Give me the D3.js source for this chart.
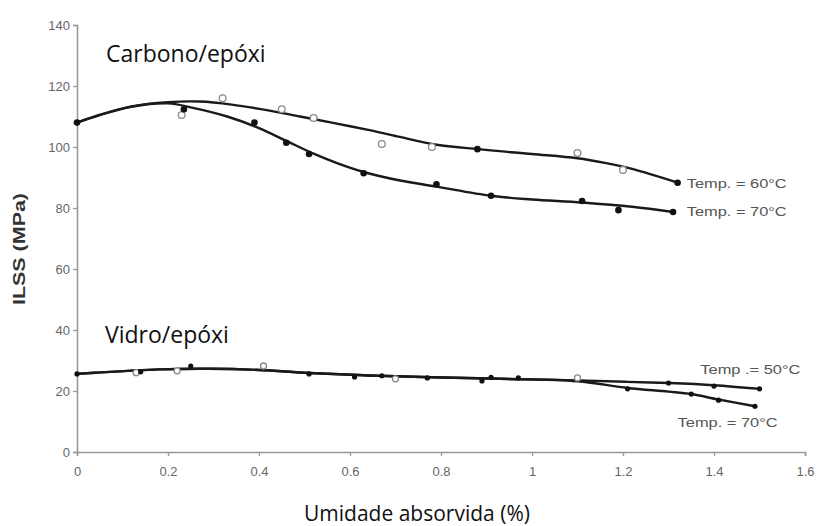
<!DOCTYPE html>
<html>
<head>
<meta charset="utf-8">
<script src="https://cdn.jsdelivr.net/npm/d3@7"></script>
<style>
  body { margin: 0; background: #fff; }
  svg { display: block; }
</style>
</head>
<body>
<div id="chart"></div>
<script>
// tick values
var xTicks = [0, 0.2, 0.4, 0.6, 0.8, 1, 1.2, 1.4, 1.6];
var yTicks = [0, 20, 40, 60, 80, 100, 120, 140];

// fitted curves
var carbon60Curve = [[0,108],[0.05,110.5],[0.12,113.3],[0.2,114.7],[0.27,114.9],[0.34,113.9],[0.42,112],[0.49,110],[0.56,108],[0.64,105.6],[0.71,103.3],[0.78,101],[0.88,99.3],[1.0,97.7],[1.1,96.3],[1.16,94.8],[1.22,92.8],[1.32,88.3]];
var carbon70Curve = [[0,108],[0.05,110.5],[0.12,113.2],[0.2,114.3],[0.25,113],[0.33,110],[0.4,106.2],[0.46,102],[0.52,97.8],[0.57,94.8],[0.63,91.8],[0.71,89],[0.79,87],[0.91,84],[1.0,82.8],[1.11,81.8],[1.22,80.4],[1.31,78.7]];
var glass50Curve = [[0,25.6],[0.04,26],[0.18,27.1],[0.29,27.3],[0.4,26.9],[0.51,25.9],[0.64,25.1],[0.78,24.5],[0.93,24],[1.1,23.5],[1.21,23],[1.3,22.6],[1.4,21.9],[1.5,20.7]];
var glass70Curve = [[0,25.6],[0.04,26],[0.18,27.1],[0.29,27.3],[0.4,26.9],[0.51,25.9],[0.64,25.1],[0.78,24.5],[0.93,24],[1.1,23.2],[1.21,21],[1.3,19.8],[1.35,19],[1.41,17.2],[1.49,15]];

// measured points
var carbonOpen = [[0.23,110.5],[0.32,116],[0.45,112.4],[0.52,109.5],[0.67,101],[0.78,100],[1.1,98],[1.2,92.5]];
var carbonFilled = [[0,108],[0.235,112.4],[0.39,108],[0.46,101.4],[0.51,97.7],[0.63,91.4],[0.79,87.8],[0.88,99.3],[0.91,84],[1.11,82.3],[1.19,79.3],[1.31,78.7],[1.32,88.3]];
var glassOpen = [[0.13,26],[0.22,26.6],[0.41,28.2],[0.7,24],[1.1,24.3]];
var glassFilled = [[0,25.6],[0.14,26.3],[0.25,28.2],[0.51,25.6],[0.61,24.6],[0.67,25],[0.77,24.3],[0.89,23.3],[0.91,24.5],[0.97,24.3],[1.21,20.7],[1.3,22.6],[1.35,19],[1.4,21.6],[1.41,17],[1.5,20.7],[1.49,15]];

// labels, anchored in data units (left edge, baseline)
var labelText = ["Temp. = 60°C", "Temp. = 70°C", "Temp .= 50°C", "Temp. = 70°C"];
var labelX = [1.34, 1.34, 1.37, 1.32];
var labelY = [86.5, 77.5, 25.5, 8.3];

var W = 817, H = 526;
var svg = d3.select("#chart").append("svg").attr("width", W).attr("height", H);

var x = d3.scaleLinear().domain([0, 1.6]).range([77, 805]);
var y = d3.scaleLinear().domain([0, 140]).range([452, 25]);

var tickFont = "'Liberation Sans', Arial, sans-serif";
var titleFont = "'Open Sans', 'Noto Sans', sans-serif";

// axes
var xAxis = svg.append("g").attr("transform", "translate(0," + y(0) + ")")
  .call(d3.axisBottom(x).tickValues(xTicks).tickSize(4).tickPadding(11)
    .tickFormat(function (d) { return d3.format("")(d); }));
var yAxis = svg.append("g").attr("transform", "translate(" + x(0) + ",0)")
  .call(d3.axisLeft(y).tickValues(yTicks).tickSize(4).tickPadding(3));

[xAxis, yAxis].forEach(function (a) {
  a.select(".domain").attr("stroke", "#999").attr("stroke-width", 1.6);
  a.selectAll(".tick line").attr("stroke", "#999").attr("stroke-width", 1.3);
  a.selectAll(".tick text").attr("fill", "#666").attr("font-size", 13)
    .attr("font-family", tickFont);
});

// curves
var line = d3.line()
  .x(function (d) { return x(d[0]); })
  .y(function (d) { return y(d[1]); })
  .curve(d3.curveCatmullRom.alpha(0.5));

[carbon60Curve, carbon70Curve, glass50Curve, glass70Curve].forEach(function (c) {
  svg.append("path").datum(c)
    .attr("d", line)
    .attr("fill", "none")
    .attr("stroke", "#1a1a1a")
    .attr("stroke-width", 2.4);
});

// markers
svg.selectAll(".co").data(carbonOpen).enter().append("circle")
  .attr("cx", function (d) { return x(d[0]); })
  .attr("cy", function (d) { return y(d[1]); })
  .attr("r", 3.4).attr("fill", "#fff").attr("stroke", "#8a8a8a").attr("stroke-width", 1.3);
svg.selectAll(".cf").data(carbonFilled).enter().append("circle")
  .attr("cx", function (d) { return x(d[0]); })
  .attr("cy", function (d) { return y(d[1]); })
  .attr("r", 3.3).attr("fill", "#111");
svg.selectAll(".go").data(glassOpen).enter().append("circle")
  .attr("cx", function (d) { return x(d[0]); })
  .attr("cy", function (d) { return y(d[1]); })
  .attr("r", 3).attr("fill", "#fff").attr("stroke", "#8a8a8a").attr("stroke-width", 1.3);
svg.selectAll(".gf").data(glassFilled).enter().append("circle")
  .attr("cx", function (d) { return x(d[0]); })
  .attr("cy", function (d) { return y(d[1]); })
  .attr("r", 2.6).attr("fill", "#111");

// series labels
labelText.forEach(function (t, i) {
  svg.append("text")
    .attr("x", x(labelX[i])).attr("y", y(labelY[i]))
    .attr("font-family", tickFont).attr("font-size", 13)
    .attr("fill", "#555")
    .attr("textLength", 100).attr("lengthAdjust", "spacingAndGlyphs")
    .text(t);
});

// panel titles
svg.append("text").attr("x", 106).attr("y", 62)
  .attr("font-family", titleFont).attr("font-size", 23).attr("fill", "#111")
  .text("Carbono/epóxi");
svg.append("text").attr("x", 105).attr("y", 343)
  .attr("font-family", titleFont).attr("font-size", 23).attr("fill", "#111")
  .text("Vidro/epóxi");

// axis titles
svg.append("text")
  .attr("transform", "translate(25,249) rotate(-90)")
  .attr("text-anchor", "middle")
  .attr("font-family", tickFont).attr("font-weight", "bold").attr("font-size", 16)
  .attr("fill", "#333")
  .attr("textLength", 112).attr("lengthAdjust", "spacingAndGlyphs")
  .text("ILSS (MPa)");
svg.append("text")
  .attr("x", 417).attr("y", 521)
  .attr("text-anchor", "middle")
  .attr("font-family", titleFont).attr("font-size", 21).attr("fill", "#111")
  .text("Umidade absorvida (%)");
</script>
</body>
</html>
